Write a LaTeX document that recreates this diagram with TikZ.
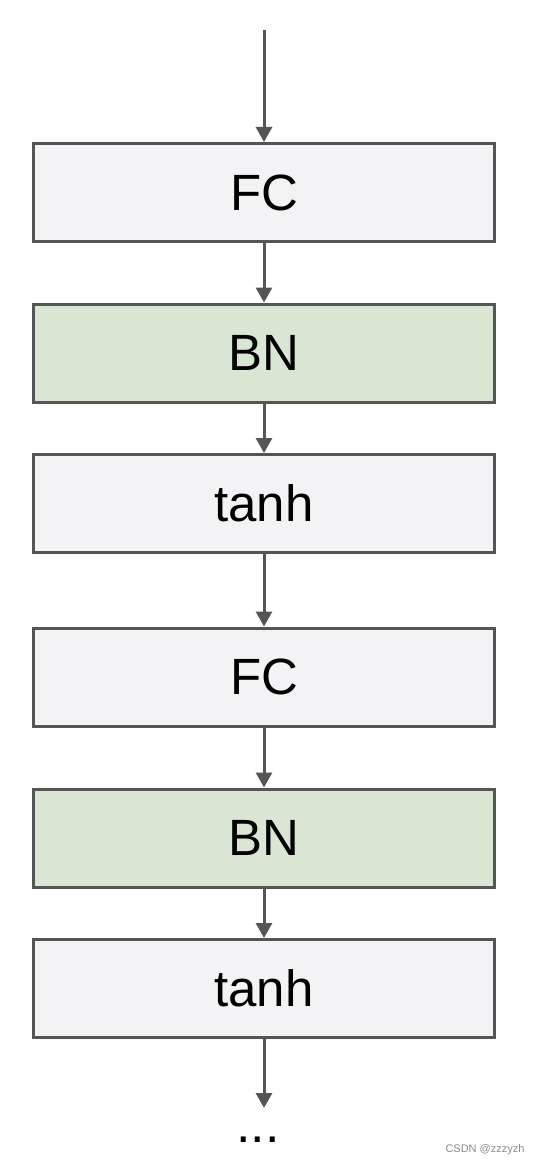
\documentclass[tikz,border=0pt]{standalone}
\usepackage{fontspec}
\setmainfont{Liberation Sans}
\usetikzlibrary{arrows.meta}
\definecolor{LayerGray}{HTML}{F3F3F5}
\definecolor{LayerGreen}{HTML}{D9E6D3}
\definecolor{EdgeDark}{HTML}{555555}
\definecolor{MarkGray}{HTML}{8A8A8A}

\tikzset{
  layer/.style={draw=EdgeDark, line width=3pt, fill=LayerGray, minimum width=461pt,
    minimum height=98pt, inner sep=0pt, font=\fontsize{51}{58}\selectfont},
  normlayer/.style={layer, fill=LayerGreen},
  flow/.style={draw=EdgeDark, line width=3pt, -{Triangle[width=16pt,length=15pt]}}
}

\begin{document}
\begin{tikzpicture}[x=1pt,y=-1pt]
  \useasboundingbox (0,0) rectangle (537,1166);
  \coordinate (in) at (264,30);
  \node[layer] (fc1) at (264,192.5) {FC};
  \node[normlayer] (bn1) at (264,353) {BN};
  \node[layer] (tanh1) at (264,503.5) {tanh};
  \node[layer] (fc2) at (264,677) {FC};
  \node[normlayer] (bn2) at (264,838) {BN};
  \node[layer] (tanh2) at (264,988.5) {tanh};
  \coordinate (out) at (264,1108);
  \node[anchor=base, inner sep=0pt, font=\fontsize{52}{60}\selectfont] (dots) at (258,1142) {...};
  \node[text=MarkGray, font=\fontsize{11}{13}\selectfont] (mark) at (485,1150) {CSDN @zzzyzh};
  % layer chain
  \draw[flow] (in) -- (fc1);
  \draw[flow] (fc1) -- (bn1);
  \draw[flow] (bn1) -- (tanh1);
  \draw[flow] (tanh1) -- (fc2);
  \draw[flow] (fc2) -- (bn2);
  \draw[flow] (bn2) -- (tanh2);
  \draw[flow] (tanh2) -- (out);
\end{tikzpicture}
\end{document}
